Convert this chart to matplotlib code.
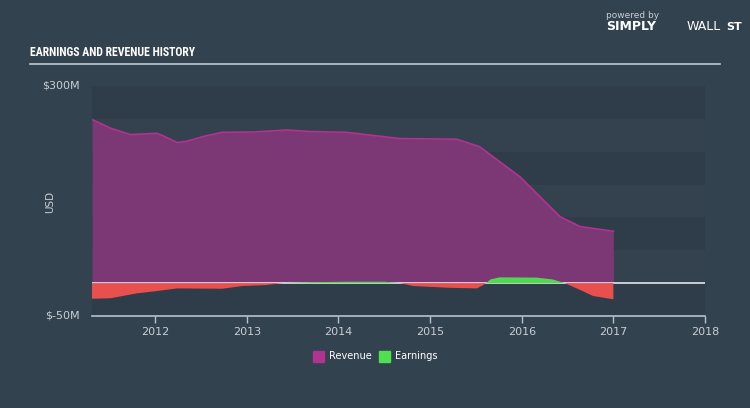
import matplotlib
matplotlib.use("Agg")
import matplotlib.pyplot as plt
import numpy as np
from matplotlib.patches import Rectangle
from matplotlib import font_manager

# ---- data (USD millions) ----
rev_t = [2011.31, 2011.51, 2011.73, 2012.02, 2012.09, 2012.24, 2012.35, 2012.52,
         2012.73, 2013.07, 2013.44, 2013.69, 2014.09, 2014.27, 2014.67, 2015.29,
         2015.54, 2015.76, 2015.98, 2016.20, 2016.42, 2016.64, 2017.0]
rev_v = [249, 236, 226, 228, 224, 214, 216, 223,
         229.5, 230, 233, 230.7, 229.5, 226.5, 220, 219,
         207.6, 184.8, 162, 131.5, 101, 86, 79]

earn_t = [2011.31, 2011.51, 2011.80, 2012.02, 2012.24, 2012.73, 2012.95, 2013.2,
          2013.40, 2013.7, 2014.1, 2014.5, 2014.67, 2014.82, 2015.2, 2015.51,
          2015.58, 2015.66, 2015.76, 2016.16, 2016.34, 2016.47, 2016.64, 2016.78, 2017.0]
earn_v = [-23.7, -23, -15.5, -12, -8, -8.5, -4.4, -3,
          0, 1.5, 2.2, 2.2, 0, -4.4, -7, -8,
          -3, 5.8, 8.8, 8.5, 5.6, 0, -10.5, -19.6, -24.6]

year_ticks = [2012, 2013, 2014, 2015, 2016, 2017, 2018]

BG = "#33424f"
TXT = "#c9ced4"

available = {f.name for f in font_manager.fontManager.ttflist}
title_fams = [f for f in ["DejaVu Sans Condensed", "Liberation Sans Narrow", "Roboto Condensed",
                          "Open Sans Condensed"] if f in available] + ["DejaVu Sans"]

fig = plt.figure(figsize=(7.5, 4.08), dpi=100, facecolor=BG)
ax = fig.add_axes([92/750, (408-316)/408, (705-92)/750, (316-86)/408])
ax.set_facecolor(BG)
ax.set_xlim(2011.31, 2018.0)
ax.set_ylim(-50, 300)

# alternating bands
for i, lo in enumerate(range(-50, 300, 50)):
    col = "#2f3d4b" if i % 2 == 0 else "#34424f"
    ax.axhspan(lo, lo + 50, color=col, lw=0, zorder=0)

rt = np.array(rev_t); rv = np.array(rev_v)
ax.fill_between(rt, 0, rv, color="#7b3875", lw=0, zorder=2)
ax.plot(rt, rv, color="#b0338f", lw=1.2, zorder=3)

et = np.array(earn_t); ev = np.array(earn_v)
ax.axhline(0, color="#d5dbe0", lw=1.3, zorder=3)
ax.fill_between(et, 0, ev, where=ev >= 0, interpolate=True, color="#4fd94f", lw=0, zorder=4)
ax.fill_between(et, 0, ev, where=ev <= 0, interpolate=True, color="#e8504e", lw=0, zorder=4)

for s in ["top", "right", "left"]:
    ax.spines[s].set_visible(False)
ax.spines["bottom"].set_color("#b8c2cc")
ax.spines["bottom"].set_linewidth(1.2)
ax.set_xticks(year_ticks)
ax.set_xticklabels([str(y) for y in year_ticks], color=TXT, fontsize=8)
ax.tick_params(axis="x", colors="#b8c2cc", length=5, width=1, labelcolor=TXT, pad=3)
ax.set_yticks([])

fig.text(80/750, 1 - 86/408, "$300M", color=TXT, fontsize=8, ha="right", va="center")
fig.text(80/750, 1 - 316/408, "$-50M", color=TXT, fontsize=8, ha="right", va="center")
fig.text(50/750, 1 - 202/408, "USD", color=TXT, fontsize=7.5, rotation=90, ha="center", va="center")

# title and rule
fig.text(30/750, 1 - 52/408, "EARNINGS AND REVENUE HISTORY", color="white", fontsize=8.5,
         fontweight="bold", fontstretch="condensed", family=title_fams, ha="left", va="center")
fig.add_artist(plt.Line2D([30/750, 720/750], [1 - 64/408, 1 - 64/408], color="#c0c8d0", lw=1.2))

# branding
fig.text(606/750, 1 - 15/408, "powered by", color=TXT, fontsize=6.5, ha="left", va="center")
fig.text(606/750, 1 - 27/408, "SIMPLY", color="white", fontsize=9, fontweight="bold", ha="left", va="center")
fig.text(687/750, 1 - 27/408, "WALL", color="white", fontsize=9, ha="left", va="center")
fig.text(726/750, 1 - 27/408, "ST", color="white", fontsize=8, fontweight="bold", ha="left", va="center")

# legend
fig.add_artist(Rectangle((313/750, 1 - 362/408), 11/750, 11/408, color="#b0338f", transform=fig.transFigure))
fig.text(329/750, 1 - 356/408, "Revenue", color="white", fontsize=7, ha="left", va="center")
fig.add_artist(Rectangle((379/750, 1 - 362/408), 11/750, 11/408, color="#4fe04f", transform=fig.transFigure))
fig.text(395/750, 1 - 356/408, "Earnings", color="white", fontsize=7, ha="left", va="center")

fig.savefig("out.png", dpi=100, facecolor=BG)
